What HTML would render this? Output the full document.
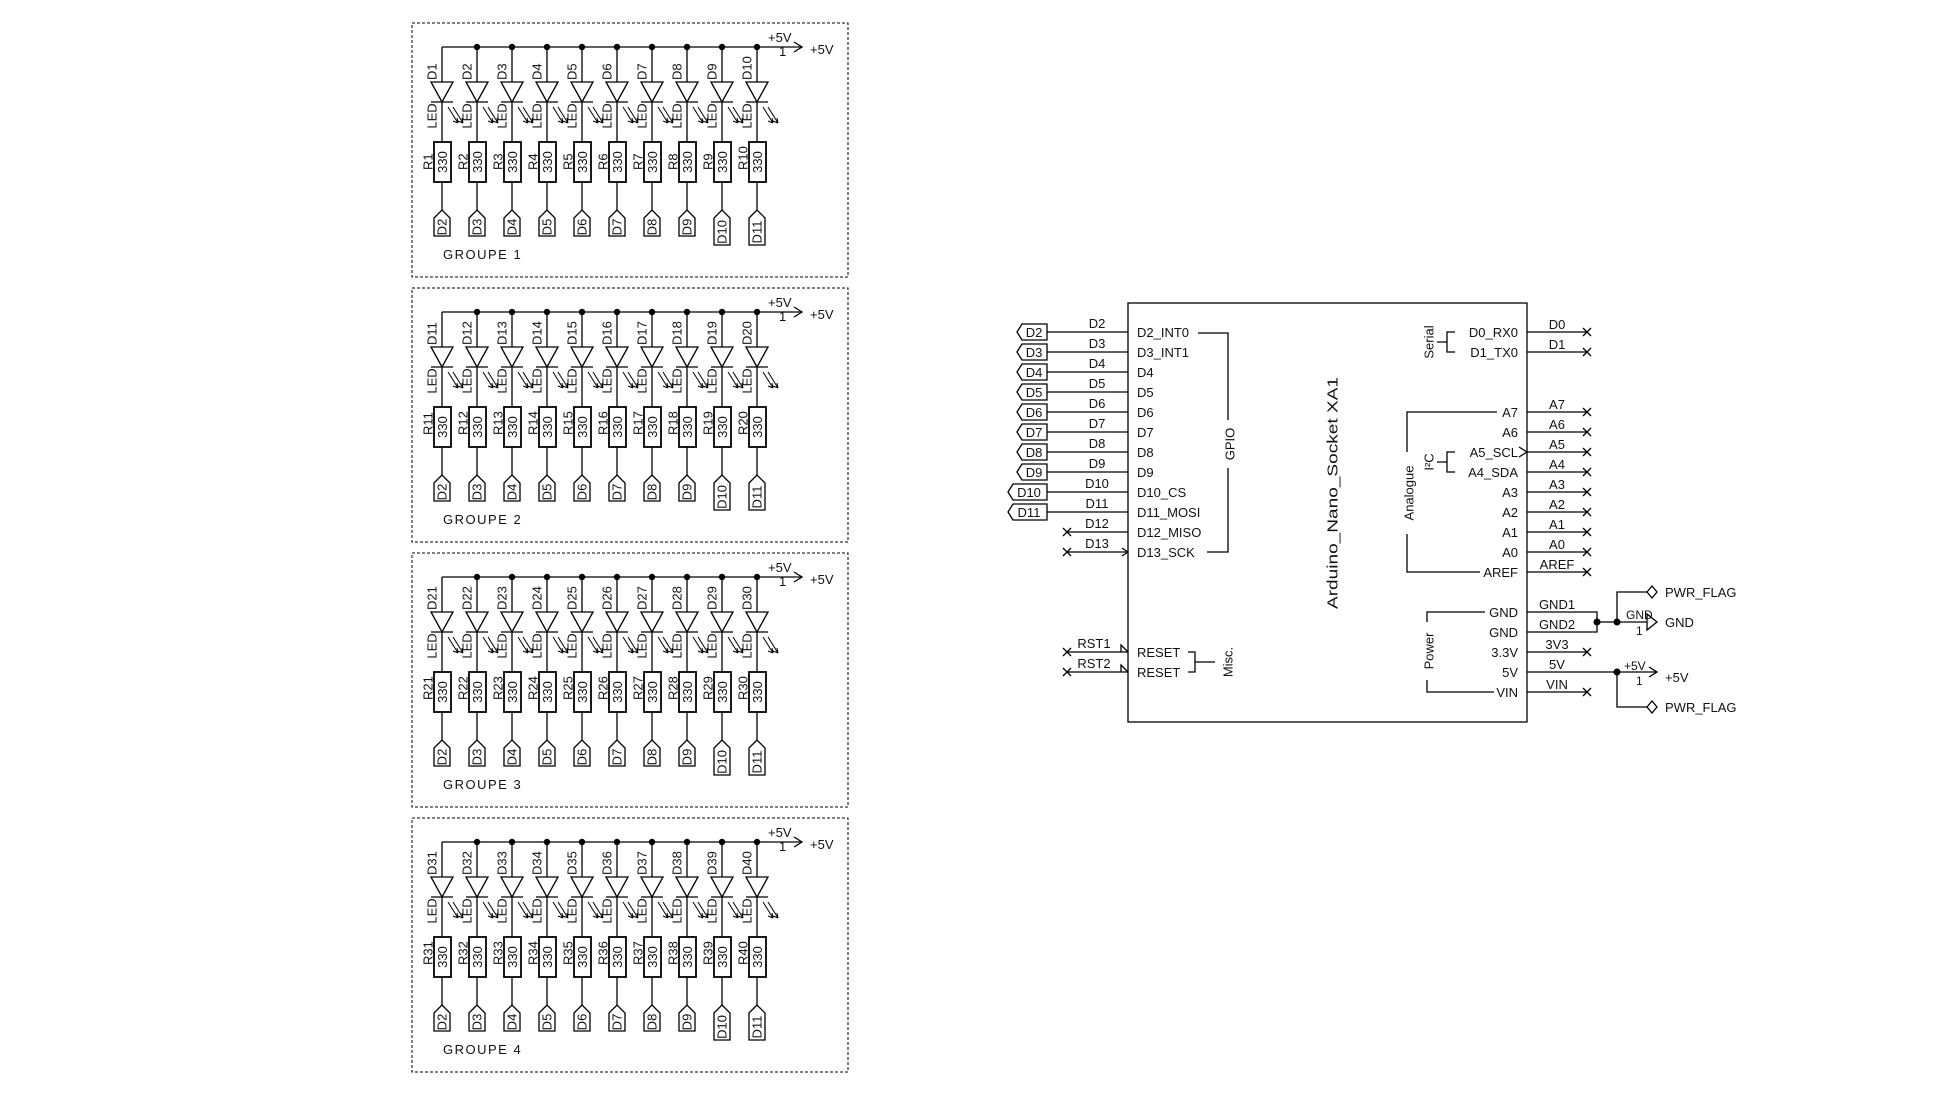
<!DOCTYPE html>
<html><head><meta charset="utf-8"><style>
html,body{margin:0;padding:0;background:#fff;}
svg{display:block;}
text{font-family:"Liberation Sans",sans-serif;fill:#111;}
</style></head><body>
<svg width="1953" height="1099" viewBox="0 0 1953 1099" xmlns="http://www.w3.org/2000/svg">
<defs>
<g id="col" stroke="#000" stroke-width="1.3" fill="none">
<line x1="0" y1="24" x2="0" y2="59"/>
<path d="M-11 59 H11 L0 79 Z"/>
<line x1="-11" y1="79" x2="11" y2="79"/>
<line x1="0" y1="79" x2="0" y2="119"/>
<rect x="-8" y="119" width="17" height="40" stroke-width="1.8"/>
<line x1="0" y1="159" x2="0" y2="187"/>
<path d="M6 84 L16 100 M11 84 L21 100 M16 100 l-1 -5 M16 100 l-5 -2 M21 100 l-1 -5 M21 100 l-5 -2" stroke-width="1"/>
</g>
<path id="lab" d="M-8 195 L0 187 L8 195 V213 H-8 Z" stroke="#000" stroke-width="1.3" fill="none"/>
<path id="lab2" d="M-8 195 L0 187 L8 195 V222 H-8 Z" stroke="#000" stroke-width="1.3" fill="none"/>
<g id="grp">
<rect x="412" y="0" width="436" height="254" fill="none" stroke="#000" stroke-width="1" stroke-dasharray="3,2"/>
<line x1="442" y1="24" x2="802" y2="24" stroke="#000" stroke-width="1.3"/>
<path d="M794 19 L802 24 L794 29" stroke="#000" stroke-width="1.3" fill="none"/>
<g fill="#000"><circle cx="477" cy="24" r="3.2"/><circle cx="512" cy="24" r="3.2"/><circle cx="547" cy="24" r="3.2"/><circle cx="582" cy="24" r="3.2"/><circle cx="617" cy="24" r="3.2"/><circle cx="652" cy="24" r="3.2"/><circle cx="687" cy="24" r="3.2"/><circle cx="722" cy="24" r="3.2"/><circle cx="757" cy="24" r="3.2"/></g>
<use href="#col" x="442"/><use href="#col" x="477"/><use href="#col" x="512"/><use href="#col" x="547"/><use href="#col" x="582"/><use href="#col" x="617"/><use href="#col" x="652"/><use href="#col" x="687"/><use href="#col" x="722"/><use href="#col" x="757"/>
<use href="#lab" x="442"/><use href="#lab" x="477"/><use href="#lab" x="512"/><use href="#lab" x="547"/><use href="#lab" x="582"/><use href="#lab" x="617"/><use href="#lab" x="652"/><use href="#lab" x="687"/><use href="#lab2" x="722"/><use href="#lab2" x="757"/>
</g>
</defs>

<use href="#grp" y="23"/>
<use href="#grp" y="288"/>
<use href="#grp" y="553"/>
<use href="#grp" y="818"/>

<g font-size="13">
<g id="gt">
<g text-anchor="middle" dominant-baseline="central">
<text transform="translate(432,116) rotate(-90)">LED</text><text transform="translate(467,116) rotate(-90)">LED</text><text transform="translate(502,116) rotate(-90)">LED</text><text transform="translate(537,116) rotate(-90)">LED</text><text transform="translate(572,116) rotate(-90)">LED</text><text transform="translate(607,116) rotate(-90)">LED</text><text transform="translate(642,116) rotate(-90)">LED</text><text transform="translate(677,116) rotate(-90)">LED</text><text transform="translate(712,116) rotate(-90)">LED</text><text transform="translate(747,116) rotate(-90)">LED</text>
<text transform="translate(442.5,162) rotate(-90)">330</text><text transform="translate(477.5,162) rotate(-90)">330</text><text transform="translate(512.5,162) rotate(-90)">330</text><text transform="translate(547.5,162) rotate(-90)">330</text><text transform="translate(582.5,162) rotate(-90)">330</text><text transform="translate(617.5,162) rotate(-90)">330</text><text transform="translate(652.5,162) rotate(-90)">330</text><text transform="translate(687.5,162) rotate(-90)">330</text><text transform="translate(722.5,162) rotate(-90)">330</text><text transform="translate(757.5,162) rotate(-90)">330</text>
<text transform="translate(442,227) rotate(-90)">D2</text><text transform="translate(477,227) rotate(-90)">D3</text><text transform="translate(512,227) rotate(-90)">D4</text><text transform="translate(547,227) rotate(-90)">D5</text><text transform="translate(582,227) rotate(-90)">D6</text><text transform="translate(617,227) rotate(-90)">D7</text><text transform="translate(652,227) rotate(-90)">D8</text><text transform="translate(687,227) rotate(-90)">D9</text><text transform="translate(722,232) rotate(-90)">D10</text><text transform="translate(757,232) rotate(-90)">D11</text>
</g>
<text x="768" y="42">+5V</text><text x="779" y="56">1</text><text x="810" y="54">+5V</text>
</g>
<use href="#gt" y="265"/><use href="#gt" y="530"/><use href="#gt" y="795"/>

<text x="443" y="259" letter-spacing="1.5">GROUPE 1</text>
<text x="443" y="524" letter-spacing="1.5">GROUPE 2</text>
<text x="443" y="789" letter-spacing="1.5">GROUPE 3</text>
<text x="443" y="1054" letter-spacing="1.5">GROUPE 4</text>

<g dominant-baseline="central">
<text transform="translate(432,80) rotate(-90)">D1</text><text transform="translate(467,80) rotate(-90)">D2</text><text transform="translate(502,80) rotate(-90)">D3</text><text transform="translate(537,80) rotate(-90)">D4</text><text transform="translate(572,80) rotate(-90)">D5</text><text transform="translate(607,80) rotate(-90)">D6</text><text transform="translate(642,80) rotate(-90)">D7</text><text transform="translate(677,80) rotate(-90)">D8</text><text transform="translate(712,80) rotate(-90)">D9</text><text transform="translate(747,80) rotate(-90)">D10</text>
<text transform="translate(428,170) rotate(-90)">R1</text><text transform="translate(463,170) rotate(-90)">R2</text><text transform="translate(498,170) rotate(-90)">R3</text><text transform="translate(533,170) rotate(-90)">R4</text><text transform="translate(568,170) rotate(-90)">R5</text><text transform="translate(603,170) rotate(-90)">R6</text><text transform="translate(638,170) rotate(-90)">R7</text><text transform="translate(673,170) rotate(-90)">R8</text><text transform="translate(708,170) rotate(-90)">R9</text><text transform="translate(743,170) rotate(-90)">R10</text>
</g>
<g dominant-baseline="central" transform="translate(0,265)">
<text transform="translate(432,80) rotate(-90)">D11</text><text transform="translate(467,80) rotate(-90)">D12</text><text transform="translate(502,80) rotate(-90)">D13</text><text transform="translate(537,80) rotate(-90)">D14</text><text transform="translate(572,80) rotate(-90)">D15</text><text transform="translate(607,80) rotate(-90)">D16</text><text transform="translate(642,80) rotate(-90)">D17</text><text transform="translate(677,80) rotate(-90)">D18</text><text transform="translate(712,80) rotate(-90)">D19</text><text transform="translate(747,80) rotate(-90)">D20</text>
<text transform="translate(428,170) rotate(-90)">R11</text><text transform="translate(463,170) rotate(-90)">R12</text><text transform="translate(498,170) rotate(-90)">R13</text><text transform="translate(533,170) rotate(-90)">R14</text><text transform="translate(568,170) rotate(-90)">R15</text><text transform="translate(603,170) rotate(-90)">R16</text><text transform="translate(638,170) rotate(-90)">R17</text><text transform="translate(673,170) rotate(-90)">R18</text><text transform="translate(708,170) rotate(-90)">R19</text><text transform="translate(743,170) rotate(-90)">R20</text>
</g>
<g dominant-baseline="central" transform="translate(0,530)">
<text transform="translate(432,80) rotate(-90)">D21</text><text transform="translate(467,80) rotate(-90)">D22</text><text transform="translate(502,80) rotate(-90)">D23</text><text transform="translate(537,80) rotate(-90)">D24</text><text transform="translate(572,80) rotate(-90)">D25</text><text transform="translate(607,80) rotate(-90)">D26</text><text transform="translate(642,80) rotate(-90)">D27</text><text transform="translate(677,80) rotate(-90)">D28</text><text transform="translate(712,80) rotate(-90)">D29</text><text transform="translate(747,80) rotate(-90)">D30</text>
<text transform="translate(428,170) rotate(-90)">R21</text><text transform="translate(463,170) rotate(-90)">R22</text><text transform="translate(498,170) rotate(-90)">R23</text><text transform="translate(533,170) rotate(-90)">R24</text><text transform="translate(568,170) rotate(-90)">R25</text><text transform="translate(603,170) rotate(-90)">R26</text><text transform="translate(638,170) rotate(-90)">R27</text><text transform="translate(673,170) rotate(-90)">R28</text><text transform="translate(708,170) rotate(-90)">R29</text><text transform="translate(743,170) rotate(-90)">R30</text>
</g>
<g dominant-baseline="central" transform="translate(0,795)">
<text transform="translate(432,80) rotate(-90)">D31</text><text transform="translate(467,80) rotate(-90)">D32</text><text transform="translate(502,80) rotate(-90)">D33</text><text transform="translate(537,80) rotate(-90)">D34</text><text transform="translate(572,80) rotate(-90)">D35</text><text transform="translate(607,80) rotate(-90)">D36</text><text transform="translate(642,80) rotate(-90)">D37</text><text transform="translate(677,80) rotate(-90)">D38</text><text transform="translate(712,80) rotate(-90)">D39</text><text transform="translate(747,80) rotate(-90)">D40</text>
<text transform="translate(428,170) rotate(-90)">R31</text><text transform="translate(463,170) rotate(-90)">R32</text><text transform="translate(498,170) rotate(-90)">R33</text><text transform="translate(533,170) rotate(-90)">R34</text><text transform="translate(568,170) rotate(-90)">R35</text><text transform="translate(603,170) rotate(-90)">R36</text><text transform="translate(638,170) rotate(-90)">R37</text><text transform="translate(673,170) rotate(-90)">R38</text><text transform="translate(708,170) rotate(-90)">R39</text><text transform="translate(743,170) rotate(-90)">R40</text>
</g>
</g>

<!-- Arduino -->
<g stroke="#000" stroke-width="1.3" fill="none">
<rect x="1128" y="303" width="399" height="419"/>
<path d="M1047 332 H1128 M1047 352 H1128 M1047 372 H1128 M1047 392 H1128 M1047 412 H1128 M1047 432 H1128 M1047 452 H1128 M1047 472 H1128 M1047 492 H1128 M1047 512 H1128 M1067 532 H1128 M1067 552 H1128 M1067 652 H1128 M1067 672 H1128"/>
<path d="M1017 332 l5 -8 h25 v16 h-25 Z M1017 352 l5 -8 h25 v16 h-25 Z M1017 372 l5 -8 h25 v16 h-25 Z M1017 392 l5 -8 h25 v16 h-25 Z M1017 412 l5 -8 h25 v16 h-25 Z M1017 432 l5 -8 h25 v16 h-25 Z M1017 452 l5 -8 h25 v16 h-25 Z M1017 472 l5 -8 h25 v16 h-25 Z M1008 492 l5 -8 h34 v16 h-34 Z M1008 512 l5 -8 h34 v16 h-34 Z"/>
<path d="M1063 528 l8 8 M1071 528 l-8 8 M1063 548 l8 8 M1071 548 l-8 8 M1063 648 l8 8 M1071 648 l-8 8 M1063 668 l8 8 M1071 668 l-8 8"/>
<path d="M1128 552 l-6 -4 M1128 552 l-6 4 M1128 652 l-7 -7 v7 M1128 672 l-7 -7 v7"/>
<path d="M1198 333 H1228 V420 M1228 468 V552 H1207"/>
<path d="M1188 652 H1195 V672 H1188 M1195 662 H1215"/>
<path d="M1455 332 H1447 V352 H1455 M1447 342 H1437"/>
<path d="M1455 452 H1447 V472 H1455 M1447 462 H1437"/>
<path d="M1497 412 H1407 V452 M1407 534 V572 H1480"/>
<path d="M1485 612 H1427 V622 M1427 680 V692 H1494"/>
<path d="M1527 332 H1587 M1527 352 H1587 M1527 412 H1587 M1527 432 H1587 M1527 452 H1587 M1527 472 H1587 M1527 492 H1587 M1527 512 H1587 M1527 532 H1587 M1527 552 H1587 M1527 572 H1587 M1527 652 H1587 M1527 692 H1587"/>
<path d="M1583 328 l8 8 M1591 328 l-8 8 M1583 348 l8 8 M1591 348 l-8 8 M1583 408 l8 8 M1591 408 l-8 8 M1583 428 l8 8 M1591 428 l-8 8 M1583 448 l8 8 M1591 448 l-8 8 M1583 468 l8 8 M1591 468 l-8 8 M1583 488 l8 8 M1591 488 l-8 8 M1583 508 l8 8 M1591 508 l-8 8 M1583 528 l8 8 M1591 528 l-8 8 M1583 548 l8 8 M1591 548 l-8 8 M1583 568 l8 8 M1591 568 l-8 8 M1583 648 l8 8 M1591 648 l-8 8 M1583 688 l8 8 M1591 688 l-8 8"/>
<path d="M1527 452 l-8 -5 M1527 452 l-8 5"/>
<path d="M1527 612 H1597 V632 H1527 M1597 622 H1647 M1617 622 V592 H1647"/>
<path d="M1647 614 V630 L1657 622 Z"/>
<path d="M1647 592 l5 -6 l5 6 l-5 6 Z"/>
<path d="M1527 672 H1657 M1649 667 L1657 672 L1649 677 M1617 672 V707 H1647"/>
<path d="M1647 707 l5 -6 l5 6 l-5 6 Z"/>
</g>
<g fill="#000"><circle cx="1597" cy="622" r="3.5"/><circle cx="1617" cy="622" r="3.5"/><circle cx="1617" cy="672" r="3.5"/></g>

<g font-size="13">
<g text-anchor="middle">
<text x="1034" y="337">D2</text><text x="1034" y="357">D3</text><text x="1034" y="377">D4</text><text x="1034" y="397">D5</text><text x="1034" y="417">D6</text><text x="1034" y="437">D7</text><text x="1034" y="457">D8</text><text x="1034" y="477">D9</text><text x="1029" y="497">D10</text><text x="1029" y="517">D11</text>
</g>
<g text-anchor="middle">
<text x="1097" y="328">D2</text><text x="1097" y="348">D3</text><text x="1097" y="368">D4</text><text x="1097" y="388">D5</text><text x="1097" y="408">D6</text><text x="1097" y="428">D7</text><text x="1097" y="448">D8</text><text x="1097" y="468">D9</text><text x="1097" y="488">D10</text><text x="1097" y="508">D11</text><text x="1097" y="528">D12</text><text x="1097" y="548">D13</text>
<text x="1094" y="648">RST1</text><text x="1094" y="668">RST2</text>
</g>
<text x="1137" y="337">D2_INT0</text><text x="1137" y="357">D3_INT1</text><text x="1137" y="377">D4</text><text x="1137" y="397">D5</text><text x="1137" y="417">D6</text><text x="1137" y="437">D7</text><text x="1137" y="457">D8</text><text x="1137" y="477">D9</text><text x="1137" y="497">D10_CS</text><text x="1137" y="517">D11_MOSI</text><text x="1137" y="537">D12_MISO</text><text x="1137" y="557">D13_SCK</text>
<text x="1137" y="657">RESET</text><text x="1137" y="677">RESET</text>
<g text-anchor="end">
<text x="1518" y="337">D0_RX0</text><text x="1518" y="357">D1_TX0</text>
<text x="1518" y="417">A7</text><text x="1518" y="437">A6</text><text x="1518" y="457">A5_SCL</text><text x="1518" y="477">A4_SDA</text><text x="1518" y="497">A3</text><text x="1518" y="517">A2</text><text x="1518" y="537">A1</text><text x="1518" y="557">A0</text><text x="1518" y="577">AREF</text>
<text x="1518" y="617">GND</text><text x="1518" y="637">GND</text><text x="1518" y="657">3.3V</text><text x="1518" y="677">5V</text><text x="1518" y="697">VIN</text>
</g>
<g text-anchor="middle">
<text x="1557" y="329">D0</text><text x="1557" y="349">D1</text><text x="1557" y="409">A7</text><text x="1557" y="429">A6</text><text x="1557" y="449">A5</text><text x="1557" y="469">A4</text><text x="1557" y="489">A3</text><text x="1557" y="509">A2</text><text x="1557" y="529">A1</text><text x="1557" y="549">A0</text><text x="1557" y="569">AREF</text>
<text x="1557" y="609">GND1</text><text x="1557" y="629">GND2</text><text x="1557" y="649">3V3</text><text x="1557" y="669">5V</text><text x="1557" y="689">VIN</text>
</g>
<text x="1626" y="619" font-size="12">GND</text><text x="1636" y="635" font-size="12">1</text>
<text x="1665" y="627">GND</text>
<text x="1665" y="597">PWR_FLAG</text><text x="1665" y="712">PWR_FLAG</text>
<text x="1624" y="670" font-size="12">+5V</text><text x="1636" y="685" font-size="12">1</text>
<text x="1665" y="682">+5V</text>
<g text-anchor="middle" dominant-baseline="central">
<text transform="translate(1230,444) rotate(-90)">GPIO</text>
<text transform="translate(1228,662) rotate(-90)">Misc.</text>
<text transform="translate(1429,342) rotate(-90)">Serial</text>
<text transform="translate(1429,462) rotate(-90)">I²C</text>
<text transform="translate(1409,493) rotate(-90)">Analogue</text>
<text transform="translate(1429,651) rotate(-90)">Power</text>
<text transform="translate(1333,493) rotate(-90)" font-size="15" textLength="232" lengthAdjust="spacingAndGlyphs">Arduino_Nano_Socket XA1</text>
</g>
</g>
</svg>
</body></html>
